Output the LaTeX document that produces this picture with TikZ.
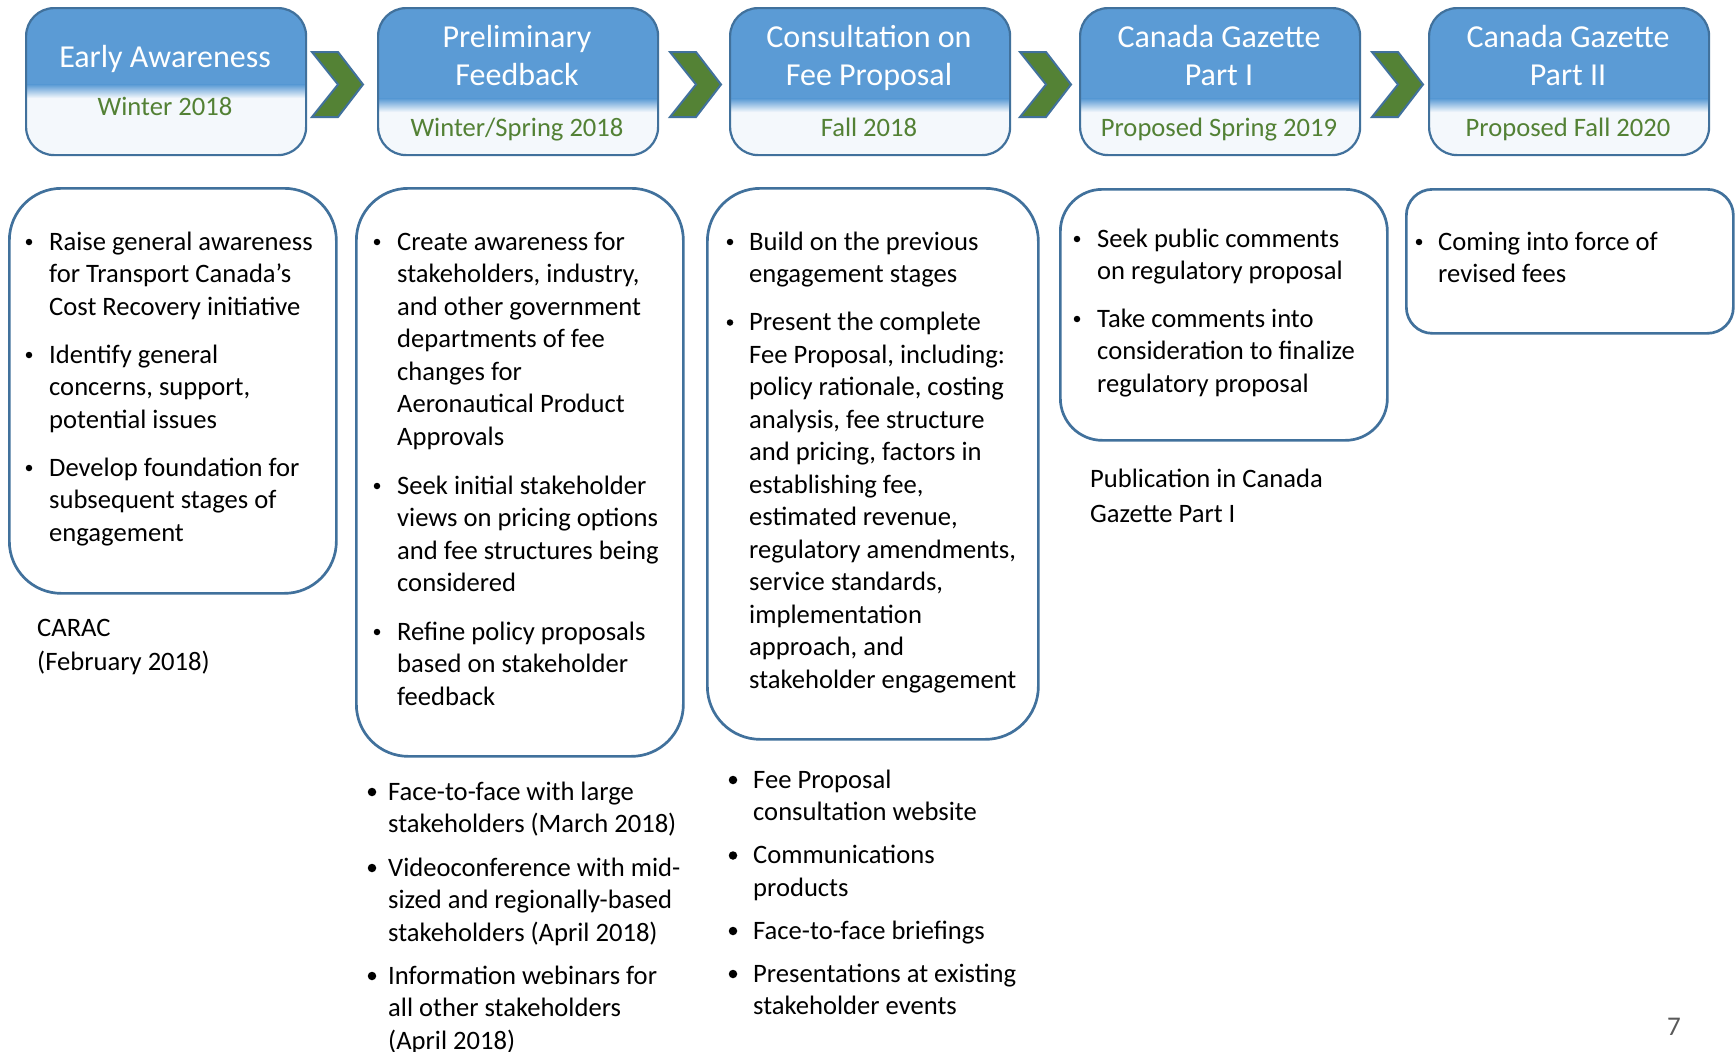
\documentclass[tikz,border=0pt]{standalone}
\usepackage{fontspec}
\setmainfont{Carlito}
\definecolor{hblue}{HTML}{5B9BD5}
\definecolor{hborder}{HTML}{41719C}
\definecolor{hlight}{HTML}{F4F8FC}
\definecolor{hgreen}{HTML}{538135}
\definecolor{chevgreen}{HTML}{548235}
\definecolor{pgnum}{HTML}{595959}
\newcommand\ml[2][32.5pt]{\vtop{\baselineskip=#1\lineskiplimit=-100pt\lineskip=0pt\halign{##\hfil\cr#2\crcr}}}
\newcommand\mlc[2][38.5pt]{\vtop{\baselineskip=#1\lineskiplimit=-100pt\lineskip=0pt\halign{\hfil##\hfil\cr#2\crcr}}}
\newcommand\bodyfs{\fontsize{26.6pt}{32.5pt}\selectfont}
\newcommand\titlefs{\fontsize{32pt}{38.5pt}\selectfont}
\tikzset{
  hdr/.style={draw=hborder, line width=2.2pt, rounded corners=28pt, fill=hlight,
    minimum width=280pt, minimum height=147pt, inner sep=0pt, anchor=north west,
    path picture={
      \fill[hblue, sharp corners] (path picture bounding box.north west) rectangle ([yshift=-#1]path picture bounding box.north east);
      \shade[top color=hblue, bottom color=hlight, sharp corners] ([yshift=-#1+0.5pt]path picture bounding box.north west) rectangle ([yshift=-#1-13pt]path picture bounding box.north east);
    }},
  bodybox/.style={draw=hborder, line width=2.7pt, inner sep=0pt, anchor=north west, minimum width=327pt},
  htitle/.style={anchor=base, inner sep=0pt, text=white, font=\titlefs},
  hsub/.style={anchor=base, inner sep=0pt, text=hgreen, font=\bodyfs},
  txt/.style={anchor=base west, inner sep=0pt, font=\bodyfs},
  sdot/.style={circle, fill=black, inner sep=0pt, minimum size=6.5pt},
  bdot/.style={circle, fill=black, inner sep=0pt, minimum size=8.5pt},
  chev/.style={fill=chevgreen, draw=hborder, line width=2pt, line join=miter}
}
\begin{document}
\begin{tikzpicture}[x=1pt, y=-1pt]
\useasboundingbox (0,0) rectangle (1735,1052);
\fill[white] (0,0) rectangle (1735,1052);

% header boxes
\node[hdr=77pt] (h1) at (25,7) {};
\node[hdr=91pt] (h2) at (377,7) {};
\node[hdr=91pt] (h3) at (729,7) {};
\node[hdr=91pt] (h4) at (1079,7) {};
\node[hdr=91pt] (h5) at (1428,7) {};

\node[htitle] (t1) at (165,67) {Early Awareness};
\node[hsub] (s1) at (165,115) {Winter 2018};
\node[htitle] (t2) at (517,47) {\mlc{Preliminary\cr Feedback}};
\node[hsub] (s2) at (517,136) {Winter/Spring 2018};
\node[htitle] (t3) at (869,47) {\mlc{Consultation on\cr Fee Proposal}};
\node[hsub] (s3) at (869,136) {Fall 2018};
\node[htitle] (t4) at (1219,47) {\mlc{Canada Gazette\cr Part I}};
\node[hsub] (s4) at (1219,136) {Proposed Spring 2019};
\node[htitle] (t5) at (1568,47) {\mlc{Canada Gazette\cr Part II}};
\node[hsub] (s5) at (1568,136) {Proposed Fall 2020};

% chevrons
\foreach \cx in {312,670,1020,1372}{
  \draw[chev] (\cx,52) -- (\cx+26,52) -- (\cx+51,84.5) -- (\cx+26,117) -- (\cx,117) -- (\cx+26,84.5) -- cycle;
}

% body boxes
\node[bodybox, minimum height=405pt, rounded corners=52pt] (ba) at (8,187) {};
\node[bodybox, minimum height=568pt, rounded corners=52pt] (bb) at (355,187) {};
\node[bodybox, minimum width=331pt, minimum height=551pt, rounded corners=53pt] (bc) at (706,187) {};
\node[bodybox, minimum height=251pt, rounded corners=42pt] (bd) at (1059,188) {};
\node[bodybox, minimum height=144pt, rounded corners=26pt] (be) at (1405,188) {};

% box A
\node[sdot] (ad1) at (29,242) {};
\node[txt] (a1) at (49,250) {\ml{Raise general awareness\cr for Transport Canada’s\cr Cost Recovery initiative}};
\node[sdot] (ad2) at (29,355) {};
\node[txt] (a2) at (49,363) {\ml{Identify general\cr concerns, support,\cr potential issues}};
\node[sdot] (ad3) at (29,468) {};
\node[txt] (a3) at (49,476) {\ml{Develop foundation for\cr subsequent stages of\cr engagement}};
\node[txt] (a4) at (37,636) {\ml[34.5pt]{CARAC\cr (February 2018)}};

% box B
\node[sdot] (bd1) at (377,242) {};
\node[txt] (b1) at (397,250) {\ml{Create awareness for\cr stakeholders, industry,\cr and other government\cr departments of fee\cr changes for\cr Aeronautical Product\cr Approvals}};
\node[sdot] (bd2) at (377,486) {};
\node[txt] (b2) at (397,494) {\ml{Seek initial stakeholder\cr views on pricing options\cr and fee structures being\cr considered}};
\node[sdot] (bd3) at (377,632) {};
\node[txt] (b3) at (397,640) {\ml{Refine policy proposals\cr based on stakeholder\cr feedback}};

% below B
\node[bdot] (bl1) at (372,792) {};
\node[txt] (bt1) at (388,800) {\ml{Face-to-face with large\cr stakeholders (March 2018)}};
\node[bdot] (bl2) at (372,868) {};
\node[txt] (bt2) at (388,876) {\ml{Videoconference with mid-\cr sized and regionally-based\cr stakeholders (April 2018)}};
\node[bdot] (bl3) at (372,976) {};
\node[txt] (bt3) at (388,984) {\ml{Information webinars for\cr all other stakeholders\cr (April 2018)}};

% box C
\node[sdot] (cd1) at (730,242) {};
\node[txt] (c1) at (749,250) {\ml{Build on the previous\cr engagement stages}};
\node[sdot] (cd2) at (730,322.5) {};
\node[txt] (c2) at (749,330.5) {\ml{Present the complete\cr Fee Proposal, including:\cr policy rationale, costing\cr analysis, fee structure\cr and pricing, factors in\cr establishing fee,\cr estimated revenue,\cr regulatory amendments,\cr service standards,\cr implementation\cr approach, and\cr stakeholder engagement}};

% below C
\node[bdot] (cl1) at (733,780) {};
\node[txt] (ct1) at (753,788) {\ml{Fee Proposal\cr consultation website}};
\node[bdot] (cl2) at (733,855.5) {};
\node[txt] (ct2) at (753,863.5) {\ml{Communications\cr products}};
\node[bdot] (cl3) at (733,931) {};
\node[txt] (ct3) at (753,939) {Face-to-face briefings};
\node[bdot] (cl4) at (733,974) {};
\node[txt] (ct4) at (753,982) {\ml{Presentations at existing\cr stakeholder events}};

% box D
\node[sdot] (dd1) at (1077,239) {};
\node[txt] (d1) at (1097,247) {\ml{Seek public comments\cr on regulatory proposal}};
\node[sdot] (dd2) at (1077,319) {};
\node[txt] (d2) at (1097,327) {\ml{Take comments into\cr consideration to finalize\cr regulatory proposal}};
\node[txt] (d3) at (1090,487) {\ml[35pt]{Publication in Canada\cr Gazette Part I}};

% box E
\node[sdot] (ed1) at (1419,242) {};
\node[txt] (e1) at (1438,250) {\ml{Coming into force of\cr revised fees}};

% page number
\node[anchor=base, inner sep=0pt, text=pgnum, font=\fontsize{27pt}{32pt}\selectfont] (pg) at (1674,1035) {7};
\end{tikzpicture}
\end{document}
